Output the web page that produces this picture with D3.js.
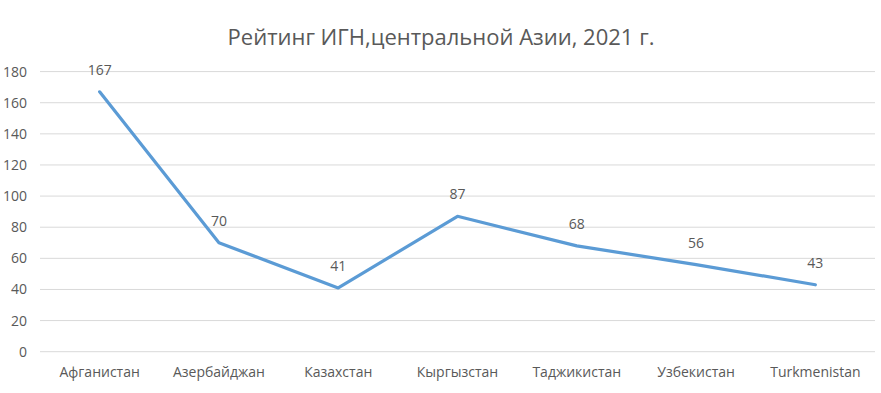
<!DOCTYPE html>
<html><head><meta charset="utf-8">
<script src="https://cdn.jsdelivr.net/npm/d3@7"></script>
<style>body{margin:0;background:#fff}text{font-family:"Open Sans",sans-serif;fill:#595959}</style>
</head><body><svg id="c" width="881" height="393"></svg>
<script>
const categories = ["Афганистан","Азербайджан","Казахстан","Кыргызстан","Таджикистан","Узбекистан","Turkmenistan"];
const values = [167,70,41,87,68,56,43];
const yTicks = [0,20,40,60,80,100,120,140,160,180];
const title = "Рейтинг ИГН,центральной Азии, 2021 г.";

const svg = d3.select("#c");
const m = {l:40, r:6, t:71.6, b:41.3};
const W = 881, H = 393;
const x = d3.scaleBand().domain(categories).range([m.l, W - m.r]);
const y = d3.scaleLinear().domain([0,180]).range([H - m.b, m.t]);

svg.append("g").selectAll("line").data(yTicks).join("line")
  .attr("x1", m.l).attr("x2", W - m.r)
  .attr("y1", d => y(d)).attr("y2", d => y(d))
  .attr("stroke", "#d9d9d9").attr("stroke-width", 1);

const ya = svg.append("g").attr("transform", `translate(${m.l},0)`)
  .call(d3.axisLeft(y).tickValues(yTicks).tickSize(0).tickPadding(13));
ya.select(".domain").remove();
ya.selectAll("text").attr("font-size", 14).style("font-family", '"Open Sans",sans-serif').attr("fill", "#595959");

const xa = svg.append("g").attr("transform", `translate(0,${H - m.b})`)
  .call(d3.axisBottom(x).tickSize(0).tickPadding(15));
xa.select(".domain").remove();
xa.selectAll("text").attr("font-size", 14).style("font-family", '"Open Sans",sans-serif').attr("fill", "#595959");

const pts = categories.map((c,i) => [x(c) + x.bandwidth()/2, y(values[i])]);
svg.append("path").attr("d", d3.line()(pts)).attr("fill","none")
  .attr("stroke","#5b9bd5").attr("stroke-width",3.2).attr("stroke-linejoin","round").attr("stroke-linecap","round");

svg.append("g").selectAll("text").data(categories).join("text")
  .attr("x", (c) => x(c) + x.bandwidth()/2)
  .attr("y", (c,i) => y(values[i]) - 17)
  .attr("text-anchor","middle").attr("font-size",14)
  .text((c,i) => values[i]);

svg.append("text").attr("x", 441).attr("y", 45).attr("text-anchor","middle")
  .attr("font-size", 22).text(title);
</script></body></html>
